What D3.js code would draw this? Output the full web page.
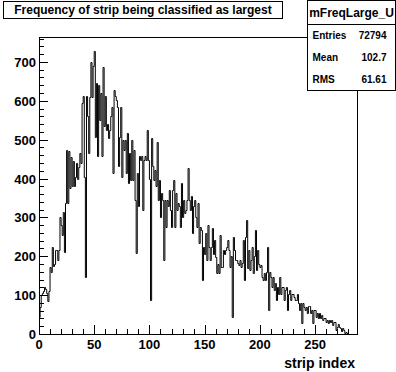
<!DOCTYPE html>
<html>
<head>
<meta charset="utf-8">
<script src="https://cdn.jsdelivr.net/npm/d3@7"></script>
<style>
  body { margin: 0; background: #fff; }
  svg { display: block; }
  text { font-family: "Liberation Sans", Arial, Helvetica, sans-serif; font-weight: bold; fill: #000; }
</style>
</head>
<body>
<div id="plot"></div>
<script>
"use strict";

var WIDTH = 396;
var HEIGHT = 372;
var NBINS = 288;
var YMAX = 764;

// bin contents, strip index 0..287
var counts = [
    45, 70, 100, 105, 110, 120, 115, 105, 85, 110,
    173, 160, 225, 175, 180, 215, 215, 190, 215, 300,
    280, 255, 315, 210, 337, 473, 337, 470, 375, 455,
    380, 445, 380, 405, 440, 400, 430, 465, 440, 594,
    611, 405, 147, 611, 560, 465, 610, 700, 610, 690,
    728, 508, 645, 457, 640, 550, 620, 457, 688, 534,
    611, 525, 540, 505, 525, 560, 585, 414, 628, 611,
    602, 585, 431, 508, 585, 405, 500, 474, 500, 414,
    517, 388, 465, 396, 500, 396, 474, 345, 208, 414,
    328, 457, 448, 457, 320, 448, 457, 448, 525, 448,
    400, 88, 503, 431, 396, 422, 380, 495, 345, 396,
    302, 362, 345, 190, 345, 276, 345, 330, 371, 319,
    276, 371, 396, 276, 362, 319, 336, 330, 276, 388,
    302, 345, 311, 319, 345, 426, 345, 319, 354, 259,
    330, 345, 302, 276, 336, 233, 276, 268, 139, 225,
    207, 259, 190, 280, 225, 190, 225, 272, 207, 242,
    199, 156, 180, 156, 254, 173, 173, 216, 205, 216,
    225, 242, 216, 173, 200, 45, 250, 216, 190, 190,
    182, 178, 190, 173, 182, 242, 139, 250, 293, 170,
    216, 165, 190, 225, 156, 200, 267, 165, 216, 181,
    173, 177, 147, 139, 156, 139, 160, 225, 62, 160,
    147, 122, 147, 113, 130, 88, 122, 104, 147, 104,
    122, 122, 88, 113, 122, 62, 104, 113, 88, 104,
    104, 95, 88, 88, 104, 79, 62, 79, 28, 79,
    70, 62, 70, 53, 71, 71, 53, 62, 28, 62,
    62, 45, 53, 40, 53, 40, 49, 36, 40, 40,
    32, 36, 28, 36, 30, 36, 23, 32, 32, 10,
    19, 25, 19, 15, 8, 15, 10, 2, 5, 2,
    0, 0, 0, 0, 0, 0, 0, 0
];

var xTicks = [0, 50, 100, 150, 200, 250];
var yTicks = [0, 100, 200, 300, 400, 500, 600, 700];

var title = "Frequency of strip being classified as largest";
var xTitle = "strip index";
var statsName = "mFreqLarge_U";
var statsLabels = ["Entries", "Mean", "RMS"];
var statsValues = ["72794", "102.7", "61.61"];

var frame = { left: 39, right: 357, top: 37, bottom: 334 };

var svg = d3.select("#plot").append("svg")
    .attr("width", WIDTH)
    .attr("height", HEIGHT);

svg.append("rect").attr("width", WIDTH).attr("height", HEIGHT).attr("fill", "#fff");

var scaleX = d3.scaleLinear().domain([0, NBINS]).range([frame.left, frame.right]);
var scaleY = d3.scaleLinear().domain([0, YMAX]).range([frame.bottom, frame.top]);

// frame
svg.append("rect")
    .attr("x", frame.left + 0.5)
    .attr("y", frame.top + 0.5)
    .attr("width", frame.right - frame.left)
    .attr("height", frame.bottom - frame.top)
    .attr("fill", "none")
    .attr("stroke", "#000");

// histogram as a step line
var steps = [];
counts.forEach(function (c, i) {
    steps.push([scaleX(i), scaleY(c)]);
    steps.push([scaleX(i + 1), scaleY(c)]);
});
var line = d3.line()
    .x(function (d) { return d[0]; })
    .y(function (d) { return Math.round(d[1]) + 0.5; });
svg.append("path")
    .attr("d", line(steps))
    .attr("fill", "none")
    .attr("stroke", "#000")
    .attr("stroke-width", 1);

// x axis ticks (pointing up into the frame)
var xAxis = svg.append("g");
d3.range(0, NBINS + 1, 10).forEach(function (v) {
    var major = v % 50 == 0;
    var px = Math.round(scaleX(v)) + 0.5;
    xAxis.append("line")
        .attr("x1", px).attr("x2", px)
        .attr("y1", frame.bottom).attr("y2", frame.bottom - (major ? 9 : 5))
        .attr("stroke", "#000");
});
xTicks.forEach(function (v) {
    xAxis.append("text")
        .attr("x", scaleX(v))
        .attr("y", frame.bottom + 15)
        .attr("text-anchor", "middle")
        .style("font-size", "13px")
        .text(v);
});
svg.append("text")
    .attr("x", frame.right - 2)
    .attr("y", 368)
    .attr("text-anchor", "end")
    .style("font-size", "14px")
    .text(xTitle);

// y axis ticks (pointing right into the frame)
var yAxis = svg.append("g");
d3.range(0, YMAX + 1, 20).forEach(function (v) {
    var major = v % 100 == 0;
    var py = Math.round(scaleY(v)) + 0.5;
    yAxis.append("line")
        .attr("x1", frame.left).attr("x2", frame.left + (major ? 9 : 5))
        .attr("y1", py).attr("y2", py)
        .attr("stroke", "#000");
});
yTicks.forEach(function (v) {
    yAxis.append("text")
        .attr("x", frame.left - 3)
        .attr("y", scaleY(v) + 5)
        .attr("text-anchor", "end")
        .style("font-size", "13px")
        .text(v);
});

// title box
svg.append("rect")
    .attr("x", 3.5).attr("y", 1.5)
    .attr("width", 279).attr("height", 17)
    .attr("fill", "#fff").attr("stroke", "#000");
svg.append("text")
    .attr("x", 143)
    .attr("y", 14)
    .attr("text-anchor", "middle")
    .style("font-size", "12px")
    .text(title);

// stats box
var sx = 307.5, sw = 88;
svg.append("rect")
    .attr("x", sx).attr("y", 0.5)
    .attr("width", sw).attr("height", 90)
    .attr("fill", "#fff").attr("stroke", "#000");
svg.append("line")
    .attr("x1", sx).attr("x2", sx + sw)
    .attr("y1", 24.5).attr("y2", 24.5)
    .attr("stroke", "#000");
svg.append("text")
    .attr("x", sx + sw / 2).attr("y", 17)
    .attr("text-anchor", "middle")
    .style("font-size", "12px")
    .text(statsName);
statsLabels.forEach(function (lab, i) {
    var y = 39 + i * 22;
    svg.append("text")
        .attr("x", sx + 5).attr("y", y)
        .style("font-size", "10px")
        .text(lab);
    svg.append("text")
        .attr("x", sx + sw - 9).attr("y", y)
        .attr("text-anchor", "end")
        .style("font-size", "10px")
        .text(statsValues[i]);
});
</script>
</body>
</html>
